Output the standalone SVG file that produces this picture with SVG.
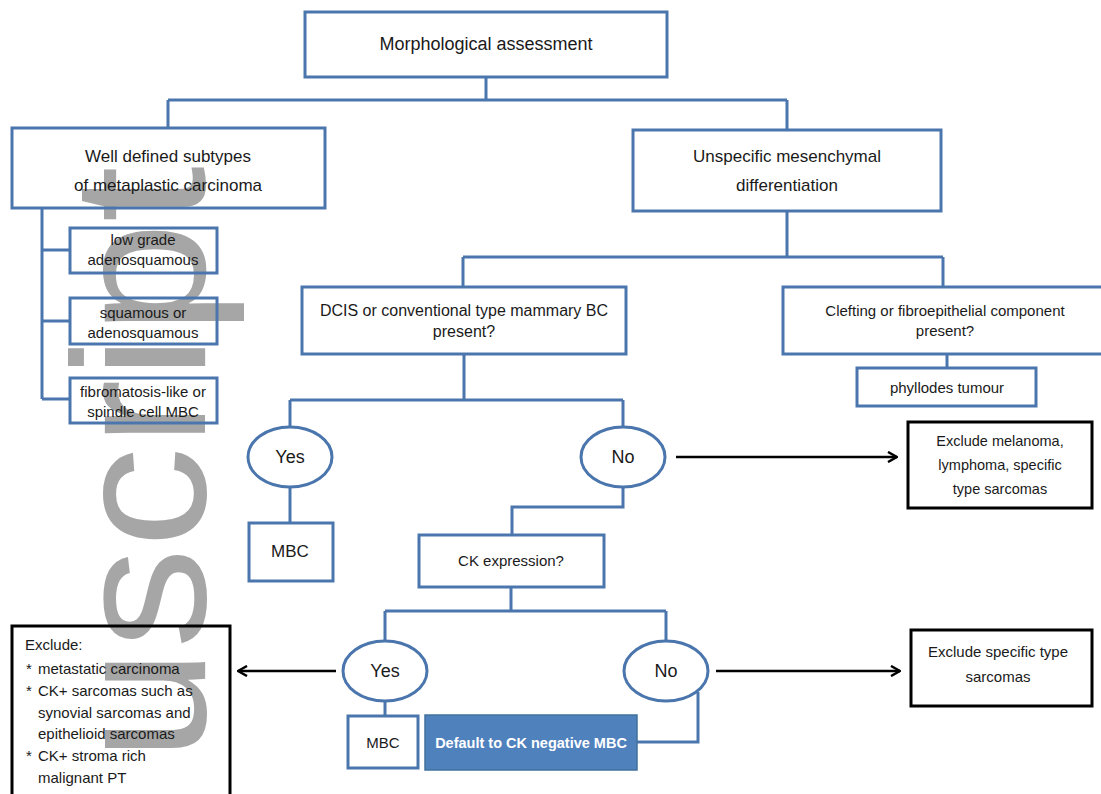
<svg xmlns="http://www.w3.org/2000/svg" width="1101" height="794" viewBox="0 0 1101 794">
<defs>
<style>
.bx{fill:none;stroke:#4a76ad;stroke-width:3}
.bk{fill:#fff;stroke:#000;stroke-width:3}
.el{fill:#fff;stroke:#4a76ad;stroke-width:3}
.ln{fill:none;stroke:#4a76ad;stroke-width:3}
.ar{fill:none;stroke:#000;stroke-width:2.5}
text{font-family:"Liberation Sans",Arial,sans-serif;fill:#1a1a1a;text-anchor:middle}
.t18{font-size:18px}
.t17{font-size:17px}
.t16{font-size:16px}
.t15{font-size:15px}
.t14{font-size:14.5px}
.lft{text-anchor:start}
.wm{font-size:190px;fill:#a6a6a6;text-anchor:start}
</style>
<marker id="ah" viewBox="0 0 12 12" refX="11" refY="6" markerWidth="12" markerHeight="12" markerUnits="userSpaceOnUse" orient="auto">
<path d="M2,1 L11,6 L2,11" fill="none" stroke="#000" stroke-width="2.5"/>
</marker>
</defs>
<rect width="1101" height="794" fill="#fff"/>
<text class="wm" transform="translate(205,761) rotate(-90) scale(1.063,1)">uscript</text>
<g id="connectors">
<path class="ln" d="M486,77 V100 M168,100 H787 M168,100 V128 M787,100 V130"/>
<path class="ln" d="M787,211 V257 M463,257 H943 M463,257 V287 M943,257 V287"/>
<path class="ln" d="M947,354 V368"/>
<path class="ln" d="M42,208 V399 M42,250 H70 M42,321 H70 M42,399 H70"/>
<path class="ln" d="M464,354 V400 M290,400 H623 M290,400 V427 M623,400 V427"/>
<path class="ln" d="M290,487 V523"/>
<path class="ln" d="M623,487 V507 H512 V535"/>
<path class="ln" d="M511,587 V611 M385,611 H666 M385,611 V641 M666,611 V641"/>
<path class="ln" d="M385,701 V716"/>
<path class="ln" d="M698,692 V742 H637"/>
<path class="ar" d="M676,457 H897" marker-end="url(#ah)"/>
<path class="ar" d="M336,671 H238" marker-end="url(#ah)"/>
<path class="ar" d="M716,671 H900" marker-end="url(#ah)"/>
</g>
<g id="morph">
<rect class="bx" x="305" y="12" width="362" height="65"/>
<text class="t18" x="486" y="50">Morphological assessment</text>
</g>
<g id="welldefined">
<rect class="bx" x="12" y="128" width="313" height="80"/>
<text class="t17" x="168" y="162">Well defined subtypes</text>
<text class="t17" x="168" y="191">of metaplastic carcinoma</text>
</g>
<g id="unspecific">
<rect class="bx" x="633" y="130" width="308" height="81"/>
<text class="t17" x="787" y="162">Unspecific mesenchymal</text>
<text class="t17" x="787" y="191">differentiation</text>
</g>
<g id="lowgrade">
<rect class="bx" x="70" y="228" width="147" height="45"/>
<text class="t15" x="143" y="245">low grade</text>
<text class="t15" x="143" y="265">adenosquamous</text>
</g>
<g id="squamous">
<rect class="bx" x="70" y="298" width="147" height="46"/>
<text class="t15" x="143" y="318">squamous or</text>
<text class="t15" x="143" y="338">adenosquamous</text>
</g>
<g id="fibromatosis">
<rect class="bx" x="70" y="378" width="147" height="45"/>
<text class="t15" x="143" y="397">fibromatosis-like or</text>
<text class="t15" x="143" y="417">spindle cell MBC</text>
</g>
<g id="dcis">
<rect class="bx" x="302" y="287" width="324" height="67"/>
<text class="t16" x="464" y="316">DCIS or conventional type mammary BC</text>
<text class="t16" x="464" y="337">present?</text>
</g>
<g id="clefting">
<rect class="bx" x="783" y="287" width="330" height="67"/>
<text class="t15" x="945" y="316">Clefting or fibroepithelial component</text>
<text class="t15" x="945" y="336">present?</text>
</g>
<g id="phyllodes">
<rect class="bx" x="857" y="368" width="179" height="38"/>
<text class="t15" x="947" y="393">phyllodes tumour</text>
</g>
<g id="yes1">
<ellipse class="el" cx="290" cy="457" rx="42" ry="30"/>
<text class="t18" x="290" y="463">Yes</text>
</g>
<g id="no1">
<ellipse class="el" cx="623" cy="457" rx="42" ry="30"/>
<text class="t18" x="623" y="463">No</text>
</g>
<g id="mbc1">
<rect class="bx" x="249" y="523" width="84" height="58"/>
<text class="t17" x="290" y="557">MBC</text>
</g>
<g id="exclmel">
<rect class="bk" x="908" y="422" width="184" height="86"/>
<text class="t14" x="1000" y="446">Exclude melanoma,</text>
<text class="t14" x="1000" y="470">lymphoma, specific</text>
<text class="t14" x="1000" y="494">type sarcomas</text>
</g>
<g id="ckexpr">
<rect class="bx" x="419" y="535" width="185" height="52"/>
<text class="t15" x="511" y="566">CK expression?</text>
</g>
<g id="yes2">
<ellipse class="el" cx="385" cy="671" rx="42" ry="30"/>
<text class="t18" x="385" y="677">Yes</text>
</g>
<g id="no2">
<ellipse class="el" cx="666" cy="671" rx="42" ry="30"/>
<text class="t18" x="666" y="677">No</text>
</g>
<g id="exclude">
<rect class="bk" x="12" y="626" width="218" height="180" fill="none" style="fill:none"/>
<text class="t15 lft" x="25" y="650">Exclude:</text>
<text class="t15 lft" x="26" y="674">*</text>
<text class="t15 lft" x="38" y="674">metastatic carcinoma</text>
<text class="t15 lft" x="26" y="696">*</text>
<text class="t15 lft" x="38" y="696">CK+ sarcomas such as</text>
<text class="t15 lft" x="38" y="718">synovial sarcomas and</text>
<text class="t15 lft" x="38" y="739">epithelioid sarcomas</text>
<text class="t15 lft" x="26" y="761">*</text>
<text class="t15 lft" x="38" y="761">CK+ stroma rich</text>
<text class="t15 lft" x="38" y="783">malignant PT</text>
</g>
<g id="exclspec">
<rect class="bk" x="911" y="630" width="181" height="76"/>
<text class="t15" x="998" y="657">Exclude specific type</text>
<text class="t15" x="998" y="682">sarcomas</text>
</g>
<g id="mbc2">
<rect class="bx" x="348" y="716" width="70" height="52"/>
<text class="t15" x="383" y="748">MBC</text>
</g>
<g id="default">
<rect x="425" y="715" width="212" height="55" fill="#4f81bd" stroke="#41719c" stroke-width="1.5"/>
<text x="531" y="748" style="font-size:14.5px;font-weight:bold;fill:#fff">Default to CK negative MBC</text>
</g>
</svg>
